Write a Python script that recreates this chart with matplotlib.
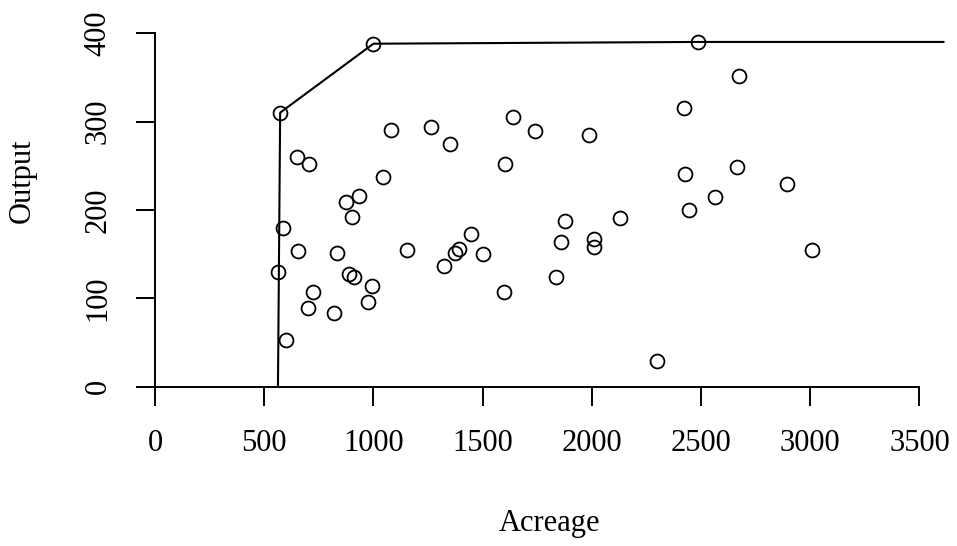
import matplotlib.pyplot as plt

# data
acreage = [573, 1000, 1081, 1263, 1351, 1638, 1738, 649, 705, 1046,
           875, 933, 904, 1603, 588, 655, 834, 1153, 1448, 1390,
           1374, 1501, 1325, 565, 889, 913, 993, 724, 977, 702,
           820, 1599, 599, 2484, 2672, 2420, 1985, 2428, 2665, 2894,
           2562, 2446, 1878, 2131, 1861, 2012, 2008, 3008, 1834, 2298]
output = [310, 388, 290, 294, 274, 305, 289, 260, 252, 237,
          209, 216, 192, 252, 180, 154, 151, 155, 173, 156,
          151, 150, 136, 130, 127, 124, 114, 107, 96, 89,
          83, 107, 53, 390, 351, 315, 285, 241, 248, 229,
          215, 200, 187, 191, 164, 167, 158, 155, 124, 29]

# frontier
front_x = [563, 573, 1000, 2484, 3610]
front_y = [0, 310, 388, 390, 390]

xticks = [0, 500, 1000, 1500, 2000, 2500, 3000, 3500]
yticks = [0, 100, 200, 300, 400]

plt.rcParams['font.family'] = ['Liberation Serif']

fig = plt.figure(figsize=(9.57, 5.46), dpi=100)
ax = fig.add_axes([0.16197, 0.29176, 0.8234, 0.6638])

ax.plot(front_x, front_y, '-', color='black', lw=1.5, clip_on=False)
ax.plot(acreage, output, 'o', mfc='none', mec='black', ms=10, mew=1.3,
        clip_on=False)

ax.set_xlim(0, 3608)
ax.set_ylim(0, 410)

for s in ['top', 'right']:
    ax.spines[s].set_visible(False)
ax.spines['left'].set_bounds(0, 400)
ax.spines['bottom'].set_bounds(0, 3500)
ax.spines['left'].set_linewidth(1.4)
ax.spines['bottom'].set_linewidth(1.4)

ax.set_xticks(xticks)
ax.set_yticks(yticks)
ax.set_yticklabels([str(v) for v in yticks], rotation=90, va='center')
ax.tick_params(axis='both', length=13.5, width=1.4, labelsize=22, pad=17)

ax.set_xlabel('Acreage', fontsize=22)
ax.set_ylabel('Output', fontsize=22)
ax.xaxis.set_label_coords(0.5, -0.3375)
ax.yaxis.set_label_coords(-0.150, 0.5676)

fig.savefig('out.png', dpi=100)
